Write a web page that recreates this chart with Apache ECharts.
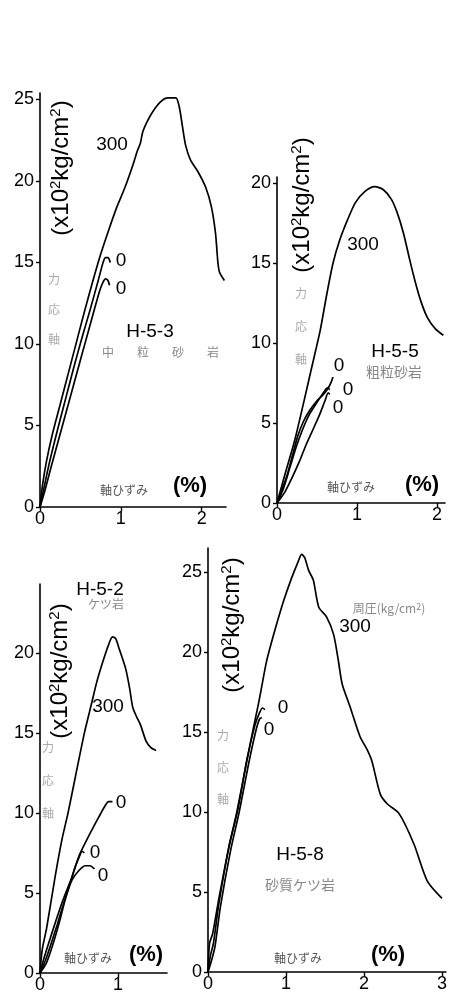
<!DOCTYPE html>
<html><head><meta charset="utf-8">
<script src="https://cdn.jsdelivr.net/npm/echarts@6/dist/echarts.min.js"></script>
<style>html,body{margin:0;padding:0;background:#fff}#c{width:450px;height:999px}</style>
</head><body><div id="c"></div>
<script>
// ---------- data (axial strain %, deviator stress x10^2 kg/cm^2) ----------
// H-5-3 (medium-grained sandstone)
const h53_300 = [[0,0],[0.03,1.3],[0.08,2.8],[0.15,4.4],[0.25,6.3],[0.35,8.2],[0.45,10.1],[0.55,12.0],[0.65,13.8],[0.75,15.5],[0.85,17.0],[0.95,18.4],[1.05,19.6],[1.15,21.0],[1.2,21.8],[1.24,22.3],[1.27,23.0],[1.32,23.6],[1.4,24.3],[1.5,24.9],[1.58,25.1],[1.68,25.1],[1.72,24.6],[1.76,23.4],[1.8,22.2],[1.86,21.3],[1.95,20.6],[2.05,19.6],[2.12,18.4],[2.17,16.8],[2.2,15.0],[2.22,14.4],[2.28,13.9]];
const h53_0a = [[0,0],[0.05,1.2],[0.12,2.8],[0.22,4.8],[0.32,6.7],[0.42,8.6],[0.52,10.4],[0.62,12.1],[0.72,13.9],[0.78,15.0],[0.81,15.3],[0.84,15.3],[0.87,15.0]];
const h53_0b = [[0,0],[0.06,1.0],[0.14,2.5],[0.25,4.5],[0.35,6.3],[0.46,8.3],[0.56,10.1],[0.66,11.9],[0.74,13.3],[0.78,13.8],[0.81,14.0],[0.84,13.9],[0.86,13.6]];
// H-5-5 (coarse-grained sandstone)
const h55_300 = [[0,0],[0.1,1.8],[0.22,3.9],[0.32,6.0],[0.43,8.4],[0.54,10.8],[0.62,13.0],[0.7,15.0],[0.78,16.4],[0.88,17.7],[0.98,18.8],[1.1,19.5],[1.22,19.8],[1.33,19.6],[1.43,19.0],[1.5,18.2],[1.58,16.9],[1.66,15.2],[1.73,13.8],[1.8,12.6],[1.88,11.6],[1.98,10.9],[2.08,10.5]];
const h55_0a = [[0,0],[0.06,0.8],[0.13,1.8],[0.2,3.1],[0.26,4.2],[0.33,5.1],[0.41,5.8],[0.5,6.4],[0.58,6.8],[0.64,7.2],[0.68,7.6],[0.7,7.9]];
const h55_0b = [[0,0],[0.08,0.9],[0.16,2.2],[0.24,3.5],[0.32,4.6],[0.4,5.5],[0.5,6.3],[0.58,6.9],[0.63,7.2],[0.66,7.1]];
const h55_0c = [[0,0],[0.1,0.7],[0.19,1.6],[0.28,2.6],[0.36,3.6],[0.45,4.6],[0.53,5.5],[0.6,6.4],[0.64,6.9],[0.66,6.8]];
// H-5-2 (shale)
const h52_300 = [[0,0],[0.03,1.5],[0.085,2.8],[0.19,5.9],[0.28,8.3],[0.36,10.0],[0.46,12.4],[0.57,15.0],[0.66,16.8],[0.73,18.2],[0.81,19.5],[0.88,20.5],[0.93,21.0],[0.97,20.9],[1.02,20.2],[1.1,19.0],[1.15,17.8],[1.19,16.6],[1.24,16.0],[1.29,15.5],[1.36,14.5],[1.42,14.1],[1.49,13.9]];
const h52_0a = [[0,0],[0.05,0.9],[0.12,2.0],[0.2,3.2],[0.29,4.5],[0.41,6.0],[0.5,7.3],[0.62,8.5],[0.75,9.7],[0.83,10.4],[0.88,10.7],[0.93,10.7]];
const h52_0b = [[0,0],[0.07,0.8],[0.14,1.8],[0.22,3.0],[0.3,4.3],[0.38,5.5],[0.45,6.6],[0.5,7.2],[0.54,7.6],[0.57,7.5]];
const h52_0c = [[0,0],[0.08,0.6],[0.16,1.7],[0.25,3.2],[0.33,4.7],[0.41,5.8],[0.5,6.4],[0.58,6.7],[0.64,6.7],[0.7,6.5]];
// H-5-8 (sandy shale)
const h58_300 = [[0,0],[0.02,1.8],[0.06,2.4],[0.14,4.6],[0.26,7.6],[0.37,10.0],[0.49,13.0],[0.58,15.2],[0.64,16.6],[0.68,17.6],[0.75,19.4],[0.86,21.4],[0.97,23.2],[1.07,24.6],[1.16,25.7],[1.2,26.1],[1.24,25.9],[1.29,25.1],[1.35,24.5],[1.42,22.8],[1.52,22.2],[1.61,21.1],[1.67,19.5],[1.72,18.0],[1.82,16.6],[1.95,14.7],[2.04,13.9],[2.1,13.2],[2.21,11.1],[2.3,10.5],[2.45,9.9],[2.64,8.0],[2.81,5.7],[3.0,4.6]];
const h58_0a = [[0,0],[0.03,1.0],[0.07,1.8],[0.14,4.3],[0.27,7.9],[0.38,10.1],[0.5,13.3],[0.6,15.4],[0.66,16.2],[0.7,16.5],[0.73,16.4]];
const h58_0b = [[0,0],[0.05,0.8],[0.09,1.6],[0.16,4.1],[0.29,7.6],[0.4,10.0],[0.52,13.0],[0.61,15.0],[0.66,15.8],[0.69,15.9]];

// tick labels
const xTicksA = [0,1,2], yTicksA = [0,5,10,15,20,25];
const xTicksB = [0,1,2], yTicksB = [0,5,10,15,20];
const xTicksC = [0,1],   yTicksC = [0,5,10,15,20];
const xTicksD = [0,1,2,3], yTicksD = [0,5,10,15,20,25];

// texts
const specimens = ['H-5-3','H-5-5','H-5-2','H-5-8'];
const rockA = ['中','粒','砂','岩'];
const rocks = ['','粗粒砂岩','ケツ岩','砂質ケツ岩'];
const pressureLabel = '300';
const zeroLabel = '0';
const xTitle = '軸ひずみ';
const xUnit = '(%)';
const stressChars = '力\n応\n軸';

// ---------- chart ----------
const chart = echarts.init(document.getElementById('c'), null, {renderer:'canvas'});
const FONT = 'Liberation Sans';
const JP = 'Noto Sans CJK JP';

function xAx(i, max, ticks){
  return {type:'value', gridIndex:i, min:0, max:max,
    axisLine:{onZero:false, lineStyle:{color:'#000', width:1.6}},
    axisTick:{customValues:ticks, length:4, lineStyle:{color:'#000', width:1.4}},
    axisLabel:{customValues:ticks, color:'#000', fontSize:18, fontFamily:FONT, margin:3},
    splitLine:{show:false}};
}
function yAx(i, max, ticks){
  return {type:'value', gridIndex:i, min:0, max:max,
    axisLine:{onZero:false, lineStyle:{color:'#000', width:1.6}},
    axisTick:{customValues:ticks, length:4, lineStyle:{color:'#000', width:1.4}},
    axisLabel:{customValues:ticks, color:'#000', fontSize:18, fontFamily:FONT, margin:6},
    splitLine:{show:false}};
}
function ln(data, i){
  return {type:'line', data:data, xAxisIndex:i, yAxisIndex:i, showSymbol:false, symbol:'none',
    smooth:0.25, lineStyle:{color:'#000', width:1.7}, silent:true, animation:false};
}
function title(x, y){
  return {type:'text', x:x, y:y, rotation:Math.PI/2,
    style:{text:'{a|(x10}{s|2}{a|kg/cm}{s|2}{a|)}', align:'center', verticalAlign:'middle',
      rich:{a:{fontSize:24, fontFamily:FONT, fill:'#000', lineHeight:26},
            s:{fontSize:15, fontFamily:FONT, fill:'#000', verticalAlign:'top', lineHeight:26}}}};
}
function txt(s, x, y, size){
  return {type:'text', x:x, y:y,
    style:{text:s, fontSize:size, fontFamily:FONT, fill:'#000', align:'center', verticalAlign:'middle'}};
}
function unit(x, y){
  return {type:'text', x:x, y:y,
    style:{text:xUnit, fontSize:22, fontWeight:'bold', fontFamily:FONT, fill:'#000', align:'center', verticalAlign:'middle'}};
}
function jp(s, x, y, size, color, lh){
  return {type:'text', x:x, y:y,
    style:{text:s, fontSize:size, fontFamily:JP, fill:color, align:'center', verticalAlign:'middle', lineHeight:lh||size}};
}

const option = {
  backgroundColor:'#fff',
  animation:false,
  grid:[
    {left:40, top:93, width:186, height:414},
    {left:277, top:177, width:168, height:326},
    {left:40, top:584, width:127, height:389},
    {left:208, top:548, width:238, height:424}
  ],
  xAxis:[xAx(0,2.3,xTicksA), xAx(1,2.1,xTicksB), xAx(2,1.63,xTicksC), xAx(3,3.05,xTicksD)],
  yAxis:[yAx(0,25.4,yTicksA), yAx(1,20.4,yTicksB), yAx(2,24.3,yTicksC), yAx(3,26.5,yTicksD)],
  series:[
    ln(h53_300,0), ln(h53_0a,0), ln(h53_0b,0),
    ln(h55_300,1), ln(h55_0a,1), ln(h55_0b,1), ln(h55_0c,1),
    ln(h52_300,2), ln(h52_0a,2), ln(h52_0b,2), ln(h52_0c,2),
    ln(h58_300,3), ln(h58_0a,3), ln(h58_0b,3)
  ],
  graphic:[
    // panel A
    title(61,168),
    txt(pressureLabel,112,145,19),
    txt(zeroLabel,121,261,19), txt(zeroLabel,121,289,19),
    txt(specimens[0],150,332,19),
    jp(rockA[0],108,352,12,'#888'), jp(rockA[1],143,352,12,'#888'),
    jp(rockA[2],178,352,12,'#888'), jp(rockA[3],213,352,12,'#888'),
    jp(stressChars,54,309,12,'#aaa',30),
    jp(xTitle,124,490,12,'#555'),
    unit(190,486),
    // panel B
    title(302,205),
    txt(pressureLabel,363,245,19),
    txt(zeroLabel,339,366,19), txt(zeroLabel,348,390,19), txt(zeroLabel,338,408,19),
    txt(specimens[1],395,352,19),
    jp(rocks[1],394,372,14,'#888'),
    jp(stressChars,301,326,12,'#aaa',33),
    jp(xTitle,351,487,12,'#555'),
    unit(422,485),
    // panel C
    txt(specimens[2],100,590,19),
    jp(rocks[2],106,604,12,'#888'),
    title(60,671),
    txt(pressureLabel,108,707,19),
    txt(zeroLabel,121,803,19), txt(zeroLabel,95,853,19), txt(zeroLabel,103,876,19),
    jp(stressChars,48,780,12,'#aaa',33),
    jp(xTitle,88,958,12,'#555'),
    unit(146,955),
    // panel D
    title(232,625),
    {type:'text', x:389, y:608, style:{text:'{a|周圧(kg/cm}{s|2}{a|)}', align:'center', verticalAlign:'middle',
      rich:{a:{fontSize:12, fontFamily:JP, fill:'#888'}, s:{fontSize:9, fontFamily:JP, fill:'#888', verticalAlign:'top'}}}},
    txt(pressureLabel,355,627,19),
    txt(zeroLabel,283,708,19), txt(zeroLabel,269,730,19),
    txt(specimens[3],300,855,19),
    jp(rocks[3],300,885,14,'#888'),
    jp(stressChars,223,767,12,'#aaa',32),
    jp(xTitle,298,958,12,'#555'),
    unit(388,955)
  ]
};
chart.setOption(option);
</script></body></html>
